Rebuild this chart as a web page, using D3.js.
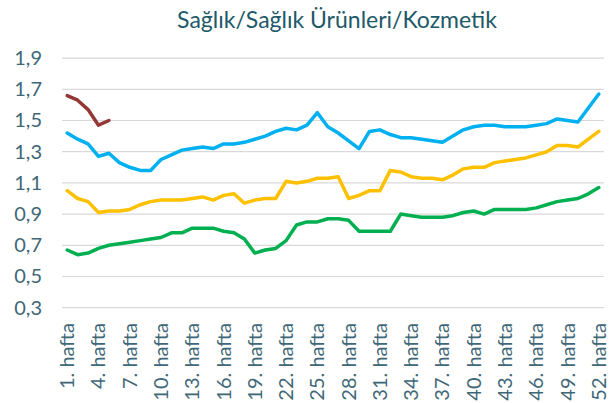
<!DOCTYPE html>
<html>
<head>
<meta charset="utf-8">
<script src="https://cdn.jsdelivr.net/npm/d3@7"></script>
<style>
  body { margin: 0; background: #fff; }
  svg { display: block; font-family: Lato, "Open Sans", sans-serif; }
</style>
</head>
<body>
<svg width="610" height="403"></svg>
<script>
// data
var weeks = d3.range(1, 53);
var yTicks = [0.3, 0.5, 0.7, 0.9, 1.1, 1.3, 1.5, 1.7, 1.9];

var redValues = [1.66, 1.63, 1.57, 1.47, 1.50];
var blueValues = [1.42, 1.38, 1.35, 1.27, 1.29, 1.23, 1.20, 1.18, 1.18, 1.25,
                  1.28, 1.31, 1.32, 1.33, 1.32, 1.35, 1.35, 1.36, 1.38, 1.40,
                  1.43, 1.45, 1.44, 1.47, 1.55, 1.46, 1.42, 1.37, 1.32, 1.43,
                  1.44, 1.41, 1.39, 1.39, 1.38, 1.37, 1.36, 1.40, 1.44, 1.46,
                  1.47, 1.47, 1.46, 1.46, 1.46, 1.47, 1.48, 1.51, 1.50, 1.49,
                  1.58, 1.67];
var yellowValues = [1.05, 1.00, 0.98, 0.91, 0.92, 0.92, 0.93, 0.96, 0.98, 0.99,
                    0.99, 0.99, 1.00, 1.01, 0.99, 1.02, 1.03, 0.97, 0.99, 1.00,
                    1.00, 1.11, 1.10, 1.11, 1.13, 1.13, 1.14, 1.00, 1.02, 1.05,
                    1.05, 1.18, 1.17, 1.14, 1.13, 1.13, 1.12, 1.15, 1.19, 1.20,
                    1.20, 1.23, 1.24, 1.25, 1.26, 1.28, 1.30, 1.34, 1.34, 1.33,
                    1.38, 1.43];
var greenValues = [0.67, 0.64, 0.65, 0.68, 0.70, 0.71, 0.72, 0.73, 0.74, 0.75,
                   0.78, 0.78, 0.81, 0.81, 0.81, 0.79, 0.78, 0.74, 0.65, 0.67,
                   0.68, 0.73, 0.83, 0.85, 0.85, 0.87, 0.87, 0.86, 0.79, 0.79,
                   0.79, 0.79, 0.90, 0.89, 0.88, 0.88, 0.88, 0.89, 0.91, 0.92,
                   0.90, 0.93, 0.93, 0.93, 0.93, 0.94, 0.96, 0.98, 0.99, 1.00,
                   1.03, 1.07];

var series = [
  { color: '#953735', values: redValues },
  { color: '#00b0f0', values: blueValues },
  { color: '#ffc000', values: yellowValues },
  { color: '#00b050', values: greenValues }
];

var svg = d3.select('svg');
var plotLeft = 62, plotRight = 604, plotTop = 58.1, plotBottom = 307.7;
var labelColor = '#3f6777';

var x = d3.scaleBand()
    .domain(weeks)
    .range([plotLeft, plotRight]);

var y = d3.scaleLinear()
    .domain([0.3, 1.9])
    .range([plotBottom, plotTop]);

// title
svg.append('text')
    .attr('x', 337)
    .attr('y', 28)
    .attr('text-anchor', 'middle')
    .style('font-size', '23px')
    .style('fill', '#215968')
    .text('Sağlık/Sağlık Ürünleri/Kozmetik');

// gridlines
svg.append('g')
    .selectAll('line')
    .data(yTicks)
    .enter()
    .append('line')
    .attr('x1', plotLeft)
    .attr('x2', plotRight)
    .attr('y1', function(d) { return y(d); })
    .attr('y2', function(d) { return y(d); })
    .style('stroke', '#d9d9d9')
    .style('stroke-width', 1.2);

// y axis labels
var yAxis = d3.axisLeft(y)
    .tickValues(yTicks)
    .tickSize(0)
    .tickPadding(0)
    .tickFormat(function(d) { return d3.format('.1f')(d).replace('.', ','); });

var gy = svg.append('g')
    .attr('transform', 'translate(42,0)')
    .call(yAxis);
gy.select('.domain').remove();
gy.selectAll('text')
    .style('font-size', '20px')
    .style('font-family', 'Lato, "Open Sans", sans-serif')
    .style('fill', labelColor);

// x axis labels
var xAxis = d3.axisBottom(x)
    .tickValues(weeks.filter(function(d) { return (d - 1) % 3 === 0; }))
    .tickSize(0)
    .tickPadding(0)
    .tickFormat(function(d) { return d + '. hafta'; });

var gx = svg.append('g')
    .attr('transform', 'translate(0,323)')
    .call(xAxis);
gx.select('.domain').remove();
gx.selectAll('text')
    .attr('transform', 'rotate(-90)')
    .attr('x', 0)
    .attr('y', 0)
    .attr('dy', '0.35em')
    .style('text-anchor', 'end')
    .style('font-size', '20px')
    .style('font-family', 'Lato, "Open Sans", sans-serif')
    .style('fill', labelColor);

// lines
var line = d3.line()
    .x(function(d, i) { return x(weeks[i]) + x.bandwidth() / 2; })
    .y(function(d) { return y(d); });

series.forEach(function(s) {
    svg.append('path')
        .datum(s.values)
        .attr('d', line)
        .style('fill', 'none')
        .style('stroke', s.color)
        .style('stroke-width', 3.5)
        .style('stroke-linejoin', 'round')
        .style('stroke-linecap', 'round');
});
</script>
</body>
</html>
